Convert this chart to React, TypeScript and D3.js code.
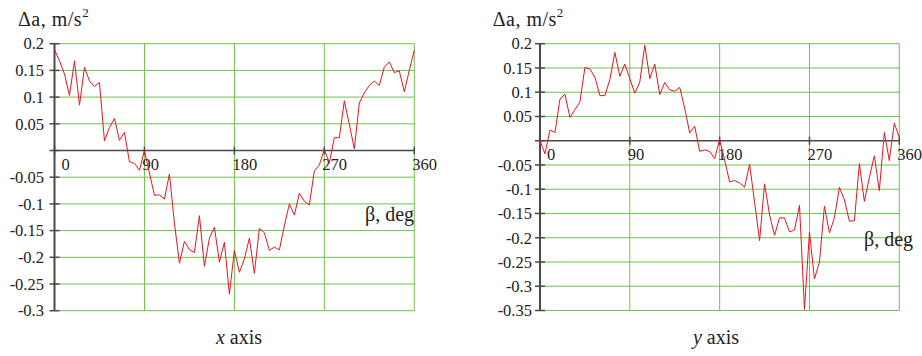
import * as d3 from 'd3'

// beta, deg (5 degree step)
const angles = d3.range(0, 361, 5)

// x axis series, m/s^2
const xAxisValues = [
  0.189, 0.168, 0.143, 0.103, 0.168, 0.085, 0.156, 0.130, 0.120, 0.127,
  0.018, 0.043, 0.060, 0.019, 0.034, -0.021, -0.024, -0.037, 0.000, -0.042,
  -0.084, -0.083, -0.091, -0.044, -0.136, -0.211, -0.170, -0.186, -0.191, -0.122,
  -0.217, -0.164, -0.144, -0.209, -0.172, -0.269, -0.187, -0.228, -0.203, -0.164,
  -0.230, -0.146, -0.154, -0.187, -0.181, -0.186, -0.141, -0.100, -0.121, -0.080,
  -0.095, -0.102, -0.038, -0.027, 0.002, -0.023, 0.024, 0.024, 0.093, 0.049,
  0.003, 0.089, 0.108, 0.122, 0.130, 0.122, 0.156, 0.166, 0.146, 0.149,
  0.110, 0.150, 0.188,
]

// y axis series, m/s^2
const yAxisValues = [
  0.000, -0.027, 0.022, 0.017, 0.086, 0.096, 0.048, 0.064, 0.080, 0.151,
  0.148, 0.131, 0.093, 0.093, 0.126, 0.182, 0.133, 0.158, 0.128, 0.098,
  0.121, 0.197, 0.128, 0.158, 0.095, 0.120, 0.105, 0.102, 0.110, 0.067,
  0.016, 0.030, -0.022, -0.019, -0.022, -0.037, 0.002, -0.040, -0.085, -0.082,
  -0.087, -0.096, -0.048, -0.127, -0.206, -0.089, -0.153, -0.195, -0.159, -0.159,
  -0.188, -0.184, -0.133, -0.348, -0.188, -0.285, -0.250, -0.135, -0.190, -0.159,
  -0.096, -0.122, -0.166, -0.165, -0.047, -0.125, -0.076, -0.031, -0.103, 0.017,
  -0.041, 0.036, 0.007,
]

const xTicks = [0, 90, 180, 270, 360]
const xTickLabels = ['0', '90', '180', '270', '360']
const yTicksLeft = [0.2, 0.15, 0.1, 0.05, 0, -0.05, -0.1, -0.15, -0.2, -0.25, -0.3]
const yTicksRight = [0.2, 0.15, 0.1, 0.05, 0, -0.05, -0.1, -0.15, -0.2, -0.25, -0.3, -0.35]

const GRID = '#6dc24b'
const AXIS = '#4a4a4a'
const LINE = '#e8141c'
const FONT = "'Liberation Serif', 'Times New Roman', Times, serif"

type PanelProps = {
  values: number[]
  yTicks: number[]
  xRange: [number, number]
  yRange: [number, number]
  labelEnd: number
  titleX: number
  betaX: number
  betaY: number
  caption: string
  captionX: number
}

function Panel({ values, yTicks, xRange, yRange, labelEnd, titleX, betaX, betaY, caption, captionX }: PanelProps) {
  const x = d3.scaleLinear().domain([0, 360]).range(xRange)
  const y = d3.scaleLinear().domain([d3.min(yTicks)!, d3.max(yTicks)!]).range(yRange)
  const x0 = x(0)
  const x1 = x(360)
  const yTop = y(d3.max(yTicks)!)
  const yBot = y(d3.min(yTicks)!)
  const y0 = y(0)

  const line = d3.line<number>()
    .x((_, i) => x(angles[i]))
    .y(d => y(d))

  return (
    <g style={{ fontFamily: FONT }} fill="#222">
      {/* horizontal grid */}
      {yTicks.filter(t => t !== 0).map(t => (
        <line key={'h' + t} x1={x0} x2={x1} y1={y(t)} y2={y(t)} stroke={GRID} strokeWidth={1} />
      ))}
      {/* vertical grid */}
      {xTicks.filter(t => t !== 0).map(t => (
        <line key={'v' + t} x1={x(t)} x2={x(t)} y1={yTop} y2={yBot} stroke={GRID} strokeWidth={1} />
      ))}
      {/* y axis */}
      <line x1={x0} x2={x0} y1={yTop} y2={yBot} stroke={AXIS} strokeWidth={2} />
      {yTicks.map(t => (
        <line key={'yt' + t} x1={x0 - 5} x2={x0 + 5} y1={y(t)} y2={y(t)} stroke={AXIS} strokeWidth={1.5} />
      ))}
      {yTicks.filter(t => t !== 0).map(t => (
        <text key={'yl' + t} x={labelEnd} y={y(t)} dy="0.35em" textAnchor="end" fontSize={16.5}>
          {String(t)}
        </text>
      ))}
      {/* zero axis */}
      <line x1={x0} x2={x1} y1={y0} y2={y0} stroke={AXIS} strokeWidth={1.5} />
      {xTicks.map(t => (
        <line key={'xt' + t} x1={x(t)} x2={x(t)} y1={y0 - 4} y2={y0 + 4} stroke={AXIS} strokeWidth={1.5} />
      ))}
      {xTicks.map((t, i) => (
        <text key={'xl' + t} x={x(t) + (t === 0 ? 7 : -2)} y={y0 + 19.5} fontSize={16.5}>
          {xTickLabels[i]}
        </text>
      ))}
      {/* data */}
      <path d={line(values) ?? ''} fill="none" stroke={LINE} strokeWidth={1} />
      {/* titles */}
      <text x={titleX} y={26} fontSize={20} letterSpacing={0.5}>
        Δa, m/s<tspan dy={-9} fontSize={13}>2</tspan>
      </text>
      <text x={betaX} y={betaY} fontSize={20}>β, deg</text>
      <text x={captionX} y={344} fontSize={20} textAnchor="middle">
        <tspan fontStyle="italic">{caption}</tspan> axis
      </text>
    </g>
  )
}

export default function App() {
  return (
    <svg width={922} height={356} style={{ position: 'absolute', left: 0, top: 0, background: '#fff' }}>
      <Panel
        values={xAxisValues}
        yTicks={yTicksLeft}
        xRange={[54.5, 414.3]}
        yRange={[310.7, 43.7]}
        labelEnd={44}
        titleX={18}
        betaX={365}
        betaY={221}
        caption="x"
        captionX={239}
      />
      <Panel
        values={yAxisValues}
        yTicks={yTicksRight}
        xRange={[540, 899.3]}
        yRange={[310.5, 43.7]}
        labelEnd={532}
        titleX={492.7}
        betaX={864}
        betaY={246}
        caption="y"
        captionX={716}
      />
    </svg>
  )
}
